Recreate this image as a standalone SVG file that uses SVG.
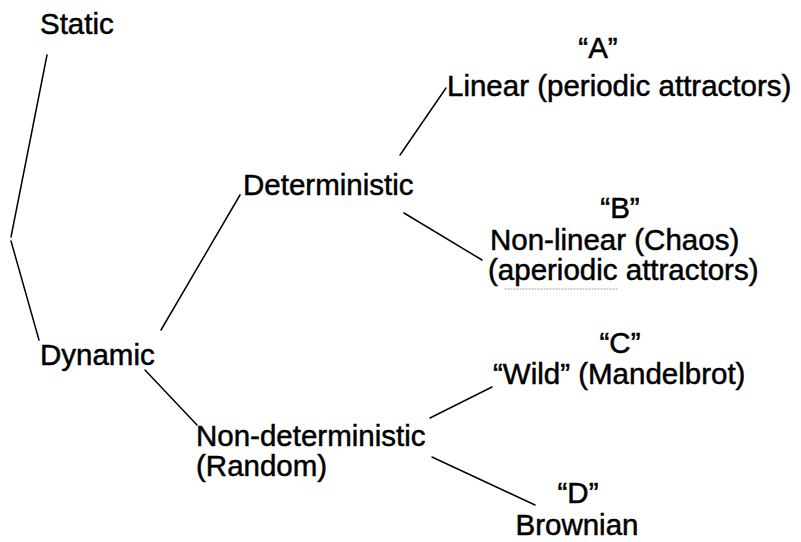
<svg xmlns="http://www.w3.org/2000/svg" width="801" height="542" viewBox="0 0 801 542">
<style>
text{font-family:"Liberation Sans",Arial,sans-serif;font-size:29.5px;fill:#000;stroke:#000;stroke-width:0.5}
.m{text-anchor:middle}
line{stroke:#000;stroke-width:1.5;stroke-linecap:round}
</style>
<rect width="801" height="542" fill="#fff"/>
<g id="connectors">
<line x1="47" y1="55" x2="11" y2="237"/>
<line x1="11" y1="241" x2="39" y2="340"/>
<line x1="161" y1="330" x2="240" y2="195"/>
<line x1="400" y1="155" x2="446" y2="88"/>
<line x1="404" y1="213" x2="482" y2="260"/>
<line x1="145" y1="370" x2="197" y2="425"/>
<line x1="430" y1="418" x2="492" y2="387"/>
<line x1="432" y1="457" x2="535" y2="505"/>
</g>
<g id="static"><text x="40" y="34">Static</text></g>
<g id="dynamic"><text x="40" y="365">Dynamic</text></g>
<g id="deterministic"><text x="243" y="195">Deterministic</text></g>
<g id="nondeterministic"><text x="196" y="446">Non-deterministic</text><text x="196" y="476">(Random)</text></g>
<g id="a"><text class="m" x="598" y="58">“A”</text><text x="447" y="96">Linear (periodic attractors)</text></g>
<g id="b"><text class="m" x="620" y="218">“B”</text><text x="490" y="250">Non-linear (Chaos)</text><text x="488" y="280">(aperiodic attractors)</text>
<line x1="505" y1="289" x2="618" y2="289" style="stroke:#999;stroke-width:1;stroke-dasharray:1 2"/></g>
<g id="c"><text class="m" x="620" y="353">“C”</text><text x="493" y="384">“Wild” (Mandelbrot)</text></g>
<g id="d"><text class="m" x="578" y="503">“D”</text><text class="m" x="577" y="535">Brownian</text></g>
</svg>
